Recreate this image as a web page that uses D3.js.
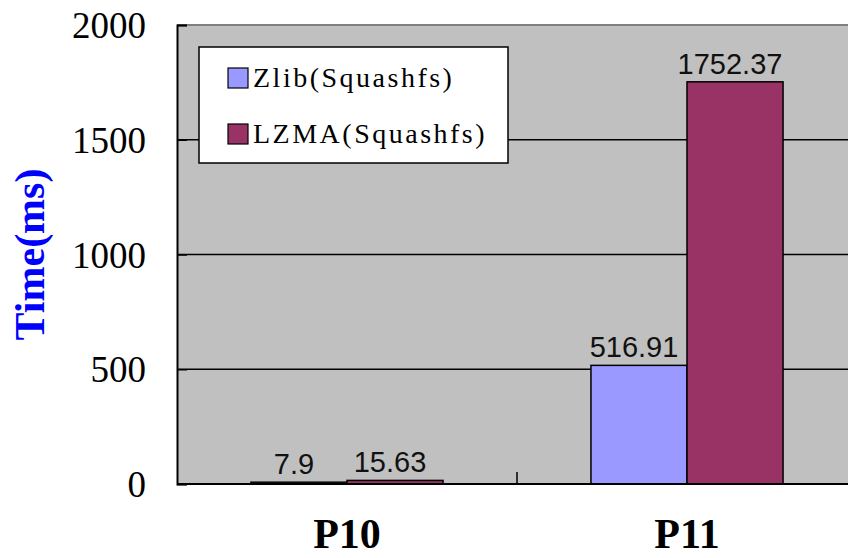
<!DOCTYPE html>
<html>
<head>
<meta charset="utf-8">
<script src="https://cdn.jsdelivr.net/npm/d3@7"></script>
<style>
  html, body { margin: 0; padding: 0; background: #fff; }
  svg { display: block; }
</style>
</head>
<body>
<svg id="chart" width="848" height="558"></svg>
<script>
// Decompression time per package, two Squashfs compressors
const categories = ["P10", "P11"];
const seriesNames = ["Zlib(Squashfs)", "LZMA(Squashfs)"];
const zlibValues = [7.9, 516.91];
const lzmaValues = [15.63, 1752.37];
const seriesColors = ["#9999FF", "#993366"];
const yTicks = [0, 500, 1000, 1500, 2000];
const yTitle = "Time(ms)";

const svg = d3.select("#chart");
const W = 848, H = 558;
const plot = { left: 177, top: 25, right: 857, bottom: 484 };

const x = d3.scaleBand().domain(categories).range([plot.left, plot.right]).padding(0);
const groupWidth = x.bandwidth() * 0.565;
const xs = d3.scaleBand().domain(seriesNames).range([0, groupWidth]).padding(0);
const y = d3.scaleLinear().domain([0, 2000]).range([plot.bottom, plot.top]);

svg.append("defs").append("clipPath").attr("id", "plotClip")
  .append("rect").attr("x", 0).attr("y", 0).attr("width", W).attr("height", H);

const g = svg.append("g").attr("clip-path", "url(#plotClip)");

// plot area background
g.append("rect")
  .attr("x", plot.left).attr("y", plot.top)
  .attr("width", plot.right - plot.left).attr("height", plot.bottom - plot.top)
  .attr("fill", "#C0C0C0");

// plot border at top
g.append("line")
  .attr("x1", plot.left).attr("x2", plot.right)
  .attr("y1", y(2000)).attr("y2", y(2000))
  .attr("stroke", "#808080").attr("stroke-width", 2);

// horizontal gridlines
g.selectAll("line.grid").data(yTicks.filter(t => t > 0 && t < 2000)).enter()
  .append("line").attr("class", "grid")
  .attr("x1", plot.left).attr("x2", plot.right)
  .attr("y1", d => y(d)).attr("y2", d => y(d))
  .attr("stroke", "#000").attr("stroke-width", 1.5);

// bars
const rows = categories.map((c, i) => ({ cat: c, vals: [zlibValues[i], lzmaValues[i]] }));
const groups = g.selectAll("g.cat").data(rows).enter().append("g")
  .attr("class", "cat")
  .attr("transform", d => `translate(${x(d.cat) + (x.bandwidth() - groupWidth) / 2},0)`);

groups.selectAll("rect").data(d => d.vals.map((v, j) => ({ name: seriesNames[j], v, j })))
  .enter().append("rect")
  .attr("x", d => xs(d.name))
  .attr("width", xs.bandwidth())
  .attr("y", d => y(d.v))
  .attr("height", d => y(0) - y(d.v))
  .attr("fill", d => seriesColors[d.j])
  .attr("stroke", "#000").attr("stroke-width", 1.5);

// value labels
groups.selectAll("text").data(d => d.vals.map((v, j) => ({ name: seriesNames[j], v, j })))
  .enter().append("text")
  .attr("x", d => xs(d.name) + xs.bandwidth() / 2 - 5)
  .attr("y", d => y(d.v) - 8)
  .attr("text-anchor", "middle")
  .attr("font-family", "'Liberation Sans', Arial, sans-serif")
  .attr("font-size", 29)
  .attr("fill", "#111")
  .text(d => String(d.v));

// y axis with inward ticks
const yAxis = d3.axisLeft(y).tickValues(yTicks).tickSize(-10).tickPadding(40).tickFormat(d3.format("d"));
const ya = svg.append("g").attr("transform", `translate(${plot.left},0)`).call(yAxis);
ya.select(".domain").attr("stroke", "#000").attr("stroke-width", 2);
ya.selectAll(".tick line").attr("stroke", "#000").attr("stroke-width", 1.5);
ya.selectAll(".tick text")
  .attr("font-family", "'Liberation Serif', 'Times New Roman', serif")
  .attr("font-size", 37).attr("fill", "#000")
  .attr("x", -31).attr("dy", "0.34em");

// x axis: labels at category centres, ticks at category boundaries
const xAxis = d3.axisBottom(x).tickSize(0).tickPadding(0);
const xa = svg.append("g").attr("transform", `translate(0,${plot.bottom})`).call(xAxis);
xa.select(".domain").remove();
xa.selectAll(".tick text")
  .attr("font-family", "'Liberation Serif', 'Times New Roman', serif")
  .attr("font-weight", "bold")
  .attr("font-size", 42).attr("fill", "#000")
  .attr("y", 64).attr("dy", 0);

svg.append("line")
  .attr("x1", plot.left).attr("x2", W)
  .attr("y1", plot.bottom).attr("y2", plot.bottom)
  .attr("stroke", "#000").attr("stroke-width", 2);

svg.selectAll("line.xtick").data(categories.slice(1)).enter()
  .append("line").attr("class", "xtick")
  .attr("x1", d => x(d)).attr("x2", d => x(d))
  .attr("y1", plot.bottom).attr("y2", plot.bottom - 12)
  .attr("stroke", "#000").attr("stroke-width", 1.5);

// y axis title
svg.append("text")
  .attr("transform", `translate(44,${(plot.top + plot.bottom) / 2}) rotate(-90)`)
  .attr("text-anchor", "middle")
  .attr("font-family", "'Liberation Serif', 'Times New Roman', serif")
  .attr("font-weight", "bold")
  .attr("font-size", 42)
  .attr("fill", "#0000FF")
  .text(yTitle);

// legend
const legend = svg.append("g");
legend.append("rect")
  .attr("x", 199).attr("y", 47).attr("width", 309).attr("height", 116)
  .attr("fill", "#fff").attr("stroke", "#000").attr("stroke-width", 1.5);

const items = legend.selectAll("g.item").data(seriesNames).enter().append("g")
  .attr("class", "item")
  .attr("transform", (d, i) => `translate(0,${i * 56})`);

items.append("rect")
  .attr("x", 228).attr("y", 68).attr("width", 20).attr("height", 20)
  .attr("fill", (d, i) => seriesColors[i]).attr("stroke", "#000").attr("stroke-width", 1.2);

items.append("text")
  .attr("x", 253).attr("y", 87)
  .attr("font-family", "'Liberation Serif', 'Times New Roman', serif")
  .attr("font-size", 28)
  .attr("letter-spacing", 2.5)
  .attr("fill", "#000")
  .text(d => d);
</script>
</body>
</html>
